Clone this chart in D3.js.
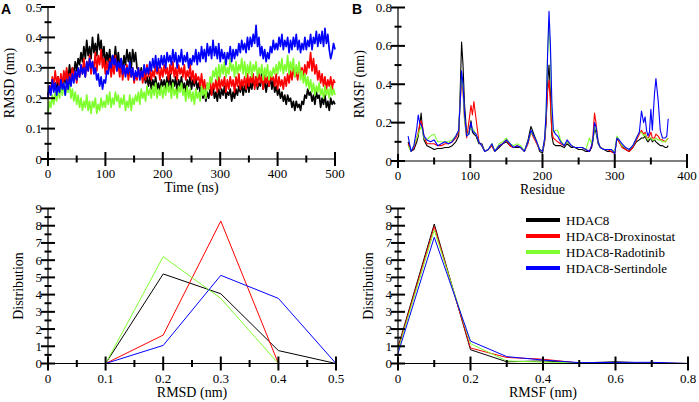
<!DOCTYPE html>
<html>
<head>
<meta charset="utf-8">
<script src="https://cdn.jsdelivr.net/npm/d3@7"></script>
<style>
  body { margin: 0; background: #fff; }
  svg { display: block; }
  .tick-label { font-family: "Liberation Serif", "Times New Roman", serif; font-size: 13px; fill: #000; }
  .axis-title { font-family: "Liberation Serif", "Times New Roman", serif; font-size: 14px; fill: #000; }
  .panel-letter { font-family: "Liberation Sans", Arial, sans-serif; font-size: 14px; font-weight: bold; fill: #000; }
</style>
</head>
<body>
<div id="chart"></div>
<script>
const WIDTH = 699;
const HEIGHT = 402;

const SERIES_NAMES = ["HDAC8", "HDAC8-Droxinostat", "HDAC8-Radotinib", "HDAC8-Sertindole"];
const COLORS = ["#000000", "#ff0000", "#80ff30", "#0000ff"];

// panel A: RMSD vs time, one value every 2.5 ns (0..500), 20 values per row = 50 ns
const TIME_STEP = 2.5;
const rmsdBlack = [
  0.21,0.24,0.22,0.26,0.23,0.25,0.22,0.27,0.24,0.26,0.23,0.28,0.25,0.29,0.26,0.31,0.27,0.30,0.28,0.32,
  0.29,0.33,0.31,0.35,0.32,0.37,0.33,0.39,0.34,0.37,0.33,0.40,0.35,0.38,0.34,0.41,0.36,0.39,0.33,0.37,
  0.31,0.35,0.32,0.36,0.30,0.34,0.32,0.37,0.31,0.35,0.30,0.33,0.29,0.34,0.31,0.36,0.32,0.35,0.30,0.36,
  0.32,0.35,0.30,0.29,0.27,0.30,0.26,0.28,0.25,0.27,0.24,0.27,0.23,0.26,0.24,0.27,0.23,0.25,0.22,0.26,
  0.24,0.26,0.23,0.27,0.24,0.28,0.23,0.26,0.24,0.27,0.22,0.26,0.24,0.27,0.23,0.25,0.22,0.26,0.24,0.27,
  0.23,0.26,0.24,0.27,0.23,0.25,0.22,0.24,0.20,0.23,0.19,0.22,0.20,0.23,0.21,0.24,0.20,0.22,0.19,0.23,
  0.20,0.23,0.21,0.24,0.20,0.22,0.21,0.23,0.19,0.22,0.20,0.23,0.21,0.24,0.22,0.25,0.21,0.24,0.22,0.26,
  0.22,0.25,0.23,0.26,0.24,0.27,0.23,0.25,0.24,0.28,0.23,0.26,0.22,0.25,0.24,0.27,0.23,0.26,0.22,0.24,
  0.21,0.23,0.20,0.22,0.19,0.21,0.18,0.21,0.19,0.20,0.17,0.19,0.16,0.19,0.17,0.18,0.16,0.19,0.18,0.21,
  0.20,0.23,0.21,0.22,0.19,0.21,0.18,0.22,0.20,0.21,0.17,0.20,0.18,0.21,0.17,0.19,0.16,0.20,0.18,0.19,
  0.18];
const rmsdRed = [
  0.20,0.24,0.22,0.27,0.24,0.29,0.25,0.27,0.24,0.28,0.23,0.29,0.26,0.30,0.25,0.28,0.26,0.30,0.27,0.29,
  0.25,0.29,0.27,0.31,0.28,0.33,0.27,0.32,0.29,0.34,0.28,0.32,0.30,0.35,0.29,0.34,0.31,0.36,0.30,0.33,
  0.28,0.32,0.29,0.33,0.27,0.31,0.28,0.34,0.29,0.31,0.27,0.32,0.26,0.30,0.28,0.31,0.26,0.29,0.27,0.30,
  0.25,0.28,0.26,0.30,0.27,0.29,0.25,0.29,0.26,0.31,0.27,0.30,0.26,0.29,0.27,0.31,0.28,0.30,0.26,0.30,
  0.27,0.31,0.28,0.30,0.26,0.31,0.28,0.32,0.27,0.30,0.26,0.31,0.28,0.30,0.27,0.31,0.26,0.29,0.27,0.31,
  0.26,0.29,0.25,0.28,0.26,0.27,0.24,0.28,0.23,0.26,0.22,0.25,0.23,0.26,0.21,0.25,0.23,0.26,0.22,0.27,
  0.23,0.26,0.24,0.27,0.22,0.26,0.23,0.27,0.24,0.26,0.22,0.27,0.24,0.28,0.23,0.26,0.24,0.27,0.23,0.28,
  0.24,0.27,0.25,0.28,0.23,0.27,0.24,0.29,0.25,0.27,0.23,0.28,0.25,0.27,0.24,0.28,0.26,0.27,0.24,0.28,
  0.23,0.27,0.24,0.26,0.23,0.27,0.24,0.28,0.25,0.29,0.26,0.30,0.27,0.29,0.26,0.31,0.28,0.30,0.27,0.31,
  0.28,0.32,0.30,0.35,0.29,0.33,0.28,0.31,0.26,0.29,0.25,0.28,0.24,0.27,0.23,0.26,0.24,0.27,0.23,0.26,
  0.25];
const rmsdGreen = [
  0.15,0.19,0.17,0.21,0.18,0.22,0.19,0.23,0.20,0.24,0.21,0.25,0.21,0.24,0.22,0.25,0.20,0.23,0.19,0.22,
  0.18,0.21,0.17,0.20,0.16,0.19,0.17,0.21,0.16,0.19,0.15,0.19,0.17,0.20,0.15,0.18,0.16,0.20,0.17,0.19,
  0.17,0.21,0.18,0.22,0.17,0.20,0.18,0.22,0.19,0.21,0.17,0.20,0.18,0.21,0.16,0.19,0.17,0.21,0.16,0.20,
  0.18,0.21,0.19,0.22,0.18,0.23,0.20,0.22,0.19,0.24,0.21,0.23,0.20,0.24,0.21,0.25,0.20,0.23,0.21,0.24,
  0.20,0.24,0.21,0.25,0.22,0.24,0.20,0.25,0.21,0.23,0.20,0.24,0.22,0.25,0.21,0.23,0.19,0.24,0.20,0.23,
  0.19,0.22,0.18,0.23,0.20,0.22,0.19,0.24,0.21,0.23,0.20,0.25,0.23,0.27,0.25,0.29,0.27,0.30,0.26,0.31,
  0.27,0.31,0.28,0.32,0.27,0.30,0.28,0.33,0.29,0.31,0.27,0.32,0.28,0.31,0.29,0.33,0.28,0.32,0.27,0.31,
  0.28,0.32,0.27,0.31,0.29,0.32,0.27,0.30,0.28,0.31,0.26,0.30,0.27,0.31,0.26,0.29,0.27,0.30,0.28,0.31,
  0.28,0.32,0.29,0.33,0.28,0.31,0.29,0.34,0.28,0.32,0.29,0.33,0.27,0.31,0.28,0.32,0.26,0.29,0.25,0.28,
  0.24,0.27,0.23,0.26,0.22,0.25,0.21,0.24,0.22,0.25,0.21,0.23,0.20,0.24,0.21,0.23,0.20,0.24,0.21,0.23,
  0.21];
const rmsdBlue = [
  0.20,0.24,0.21,0.26,0.22,0.25,0.21,0.24,0.22,0.26,0.23,0.25,0.21,0.26,0.23,0.27,0.24,0.28,0.25,0.29,
  0.26,0.30,0.27,0.31,0.28,0.30,0.27,0.32,0.29,0.33,0.30,0.32,0.28,0.30,0.26,0.28,0.24,0.27,0.23,0.26,
  0.25,0.29,0.28,0.32,0.30,0.34,0.31,0.33,0.29,0.32,0.30,0.33,0.28,0.31,0.27,0.30,0.28,0.32,0.27,0.30,
  0.26,0.29,0.27,0.30,0.26,0.29,0.27,0.31,0.28,0.30,0.28,0.32,0.29,0.33,0.30,0.34,0.29,0.33,0.30,0.34,
  0.31,0.34,0.30,0.35,0.32,0.34,0.31,0.36,0.32,0.35,0.30,0.34,0.32,0.36,0.31,0.34,0.32,0.35,0.30,0.33,
  0.31,0.34,0.32,0.36,0.31,0.35,0.32,0.37,0.33,0.36,0.32,0.38,0.34,0.37,0.33,0.39,0.34,0.37,0.33,0.38,
  0.32,0.36,0.33,0.35,0.31,0.35,0.33,0.37,0.32,0.36,0.33,0.36,0.34,0.38,0.35,0.39,0.36,0.38,0.35,0.40,
  0.36,0.40,0.37,0.41,0.38,0.44,0.37,0.40,0.34,0.37,0.33,0.36,0.32,0.35,0.33,0.37,0.35,0.39,0.36,0.38,
  0.36,0.40,0.37,0.41,0.36,0.39,0.37,0.40,0.35,0.39,0.36,0.40,0.37,0.41,0.36,0.39,0.35,0.38,0.36,0.40,
  0.36,0.39,0.37,0.41,0.36,0.40,0.38,0.42,0.37,0.41,0.38,0.42,0.37,0.43,0.38,0.41,0.36,0.33,0.35,0.38,
  0.36];

// panel B: RMSF per residue
const residues = [14,18,22,26,28,30,32,34,36,40,45,50,55,60,65,70,75,80,84,86,
  88,90,92,95,98,101,103,105,108,112,116,120,125,130,134,140,145,150,155,160,
  165,170,175,180,184,188,192,196,200,203,205,207,209,211,213,215,218,221,225,230,
  234,240,245,250,255,260,265,268,270,272,274,277,280,285,290,295,300,303,306,310,
  315,320,325,330,334,337,340,342,344,346,348,350,352,355,357,360,363,366,370,372,374];
const rmsfBlack = [0.10,0.05,0.06,0.10,0.13,0.18,0.25,0.16,0.11,0.08,0.07,0.06,0.065,0.065,0.07,0.07,0.08,0.10,0.13,0.35,
  0.62,0.50,0.30,0.14,0.14,0.21,0.15,0.14,0.13,0.09,0.09,0.05,0.06,0.08,0.05,0.07,0.09,0.10,0.08,0.07,
  0.07,0.07,0.05,0.11,0.18,0.14,0.10,0.05,0.04,0.10,0.20,0.40,0.50,0.35,0.13,0.09,0.08,0.08,0.08,0.07,
  0.09,0.07,0.07,0.06,0.06,0.05,0.05,0.07,0.11,0.17,0.15,0.09,0.07,0.06,0.05,0.05,0.04,0.12,0.10,0.08,
  0.06,0.05,0.07,0.10,0.11,0.12,0.12,0.13,0.11,0.10,0.11,0.12,0.10,0.11,0.10,0.09,0.08,0.08,0.07,0.07,0.08];
const rmsfRed = [0.09,0.05,0.07,0.12,0.15,0.19,0.21,0.18,0.13,0.09,0.09,0.09,0.08,0.08,0.09,0.09,0.10,0.12,0.15,0.30,
  0.42,0.36,0.22,0.12,0.20,0.29,0.24,0.31,0.22,0.10,0.08,0.05,0.06,0.08,0.05,0.08,0.09,0.11,0.08,0.07,
  0.08,0.07,0.05,0.09,0.15,0.12,0.09,0.06,0.05,0.11,0.22,0.36,0.42,0.30,0.15,0.12,0.11,0.10,0.09,0.08,
  0.10,0.08,0.07,0.07,0.07,0.06,0.05,0.08,0.14,0.25,0.20,0.10,0.07,0.06,0.06,0.05,0.04,0.12,0.10,0.07,
  0.06,0.05,0.07,0.11,0.14,0.16,0.14,0.15,0.12,0.12,0.13,0.15,0.12,0.12,0.14,0.13,0.11,0.11,0.10,0.11,0.12];
const rmsfGreen = [0.08,0.05,0.08,0.12,0.14,0.16,0.18,0.16,0.12,0.11,0.13,0.14,0.10,0.10,0.10,0.10,0.11,0.13,0.16,0.30,
  0.45,0.38,0.22,0.13,0.15,0.17,0.17,0.16,0.14,0.10,0.08,0.05,0.06,0.09,0.05,0.09,0.10,0.12,0.09,0.08,
  0.09,0.08,0.05,0.10,0.15,0.13,0.10,0.06,0.05,0.12,0.26,0.55,0.72,0.55,0.25,0.15,0.16,0.16,0.11,0.08,
  0.10,0.08,0.07,0.07,0.07,0.06,0.12,0.09,0.12,0.18,0.17,0.10,0.07,0.06,0.06,0.06,0.05,0.13,0.11,0.08,
  0.07,0.06,0.08,0.12,0.15,0.15,0.13,0.14,0.12,0.11,0.12,0.12,0.11,0.11,0.12,0.11,0.11,0.10,0.10,0.11,0.12];
const rmsfBlue = [0.13,0.05,0.08,0.17,0.24,0.20,0.19,0.17,0.13,0.11,0.10,0.11,0.08,0.09,0.10,0.09,0.10,0.13,0.16,0.30,
  0.47,0.40,0.25,0.13,0.14,0.20,0.16,0.15,0.14,0.10,0.08,0.05,0.06,0.09,0.05,0.08,0.09,0.11,0.09,0.07,
  0.08,0.07,0.05,0.10,0.16,0.13,0.10,0.06,0.05,0.12,0.25,0.55,0.78,0.60,0.30,0.16,0.14,0.13,0.10,0.08,
  0.11,0.08,0.07,0.07,0.07,0.06,0.05,0.08,0.12,0.20,0.18,0.10,0.07,0.06,0.06,0.06,0.04,0.12,0.11,0.09,
  0.07,0.06,0.08,0.12,0.15,0.26,0.20,0.23,0.16,0.13,0.15,0.27,0.16,0.35,0.43,0.32,0.16,0.12,0.12,0.13,0.22];

// panel C: RMSD distribution (null = no point for that series)
const rmsdBins = [0.05, 0.1, 0.2, 0.3, 0.4, 0.45, 0.5];
const distRmsdBlack = [null, 0, 5.2, 4.05, 0.75, null, 0];
const distRmsdRed   = [null, 0, 1.65, 8.27, 0, 0, null];
const distRmsdGreen = [0, 0, 6.2, 3.78, 0, null, null];
const distRmsdBlue  = [null, 0, 1.05, 5.12, 3.78, null, 0];

// panel D: RMSF distribution
const rmsfBins = [0, 0.1, 0.2, 0.3, 0.4, 0.5, 0.6, 0.7, 0.8];
const distRmsfBlack = [0.95, 8.1, 0.8, 0.1, 0.15, 0.03, 0.1, 0.02, 0];
const distRmsfRed   = [0.85, 7.95, 0.9, 0.35, 0.25, 0.03, 0.06, 0.03, 0];
const distRmsfGreen = [0.75, 7.75, 1.15, 0.15, 0.08, 0.04, 0.06, 0.03, 0];
const distRmsfBlue  = [0.58, 7.33, 1.3, 0.4, 0.2, 0.05, 0.06, 0.07, 0];

const svg = d3.select("#chart").append("svg")
    .attr("width", WIDTH)
    .attr("height", HEIGHT);

// axis lines, crossing ticks, labels
function drawAxes(p) {
  const g = svg.append("g");
  const x0 = p.x.range()[0], x1 = p.x.range()[1];
  const y0 = p.y.range()[0], y1 = p.y.range()[1];

  g.append("line").attr("x1", x0).attr("x2", x0).attr("y1", y0).attr("y2", y1)
    .attr("stroke", "#000").attr("stroke-width", 1.2);
  g.append("line").attr("x1", x0).attr("x2", x1).attr("y1", y0).attr("y2", y0)
    .attr("stroke", "#000").attr("stroke-width", 1.2);

  p.xMinor.forEach(v => {
    g.append("line").attr("x1", p.x(v)).attr("x2", p.x(v)).attr("y1", y0 - 3.5).attr("y2", y0 + 3.5)
      .attr("stroke", "#000").attr("stroke-width", 2);
  });
  p.xMajor.forEach(v => {
    g.append("line").attr("x1", p.x(v)).attr("x2", p.x(v)).attr("y1", y0 - 7).attr("y2", y0 + 7)
      .attr("stroke", "#000").attr("stroke-width", 2);
    g.append("text").attr("class", "tick-label")
      .attr("x", p.x(v)).attr("y", y0 + 19)
      .attr("text-anchor", "middle")
      .text(p.xFmt(v));
  });
  p.yMinor.forEach(v => {
    g.append("line").attr("x1", x0 - 3.5).attr("x2", x0 + 3.5).attr("y1", p.y(v)).attr("y2", p.y(v))
      .attr("stroke", "#000").attr("stroke-width", 2);
  });
  p.yMajor.forEach(v => {
    g.append("line").attr("x1", x0 - 7).attr("x2", x0 + 7).attr("y1", p.y(v)).attr("y2", p.y(v))
      .attr("stroke", "#000").attr("stroke-width", 2);
    g.append("text").attr("class", "tick-label")
      .attr("x", x0 - 6).attr("y", p.y(v) + 4.5)
      .attr("text-anchor", "end")
      .text(p.yFmt(v));
  });

  g.append("text").attr("class", "axis-title")
    .attr("x", (x0 + x1) / 2).attr("y", y0 + 33)
    .attr("text-anchor", "middle")
    .text(p.xTitle);
  g.append("text").attr("class", "axis-title")
    .attr("transform", "translate(" + p.yTitleX + "," + ((y0 + y1) / 2) + ") rotate(-90)")
    .attr("text-anchor", "middle")
    .text(p.yTitle);
}

function fmt(v) { return String(+v.toFixed(2)); }
function steps(a, b, s) {
  const out = [];
  for (let i = 0; a + i * s <= b + 1e-9; i++) out.push(+(a + i * s).toFixed(4));
  return out;
}

// ---------- panel A ----------
const xA = d3.scaleLinear().domain([0, 500]).range([48, 335]);
const yA = d3.scaleLinear().domain([0, 0.5]).range([159, 7]);
const rmsdSeries = [rmsdBlack, rmsdRed, rmsdGreen, rmsdBlue];
const lineA = d3.line().x((d, i) => xA(i * TIME_STEP)).y(d => yA(d));
rmsdSeries.forEach((s, k) => {
  svg.append("path").datum(s)
    .attr("d", lineA)
    .attr("fill", "none")
    .attr("stroke", COLORS[k])
    .attr("stroke-width", 1.7)
    .attr("stroke-linejoin", "round");
});
drawAxes({x: xA, y: yA,
  xMajor: steps(0, 500, 100), xMinor: steps(50, 450, 100),
  yMajor: steps(0, 0.5, 0.1), yMinor: steps(0.05, 0.45, 0.1),
  xFmt: fmt, yFmt: fmt, xTitle: "Time (ns)", yTitle: "RMSD (nm)", yTitleX: 14});

// ---------- panel B ----------
const xB = d3.scaleLinear().domain([0, 400]).range([398, 687]);
const yB = d3.scaleLinear().domain([0, 0.8]).range([161, 7.5]);
const rmsfSeries = [rmsfBlack, rmsfRed, rmsfGreen, rmsfBlue];
const lineB = d3.line().x((d, i) => xB(residues[i])).y(d => yB(d));
rmsfSeries.forEach((s, k) => {
  svg.append("path").datum(s)
    .attr("d", lineB)
    .attr("fill", "none")
    .attr("stroke", COLORS[k])
    .attr("stroke-width", 1.1)
    .attr("stroke-linejoin", "round");
});
drawAxes({x: xB, y: yB,
  xMajor: steps(0, 400, 100), xMinor: steps(50, 350, 100),
  yMajor: steps(0, 0.8, 0.2), yMinor: steps(0.1, 0.7, 0.2),
  xFmt: fmt, yFmt: fmt, xTitle: "Residue", yTitle: "RMSF (nm)", yTitleX: 364});

// ---------- panel C ----------
const xC = d3.scaleLinear().domain([0, 0.5]).range([48, 336]);
const yC = d3.scaleLinear().domain([0, 9]).range([363.5, 208.5]);
const distRmsd = [distRmsdBlack, distRmsdRed, distRmsdGreen, distRmsdBlue];
const lineC = d3.line().x(d => xC(d[0])).y(d => yC(d[1]));
distRmsd.forEach((s, k) => {
  // skip missing bins instead of breaking the line
  const pts = s.map((v, i) => [rmsdBins[i], v]).filter(d => d[1] != null);
  svg.append("path").datum(pts)
    .attr("d", lineC)
    .attr("fill", "none")
    .attr("stroke", COLORS[k])
    .attr("stroke-width", 1);
});
drawAxes({x: xC, y: yC,
  xMajor: steps(0, 0.5, 0.1), xMinor: steps(0.05, 0.45, 0.1),
  yMajor: steps(0, 9, 1), yMinor: steps(0.5, 8.5, 1),
  xFmt: fmt, yFmt: fmt, xTitle: "RMSD (nm)", yTitle: "Distribution", yTitleX: 23});

// ---------- panel D ----------
const xD = d3.scaleLinear().domain([0, 0.8]).range([398, 688]);
const yD = d3.scaleLinear().domain([0, 9]).range([363.5, 208.5]);
const distRmsf = [distRmsfBlack, distRmsfRed, distRmsfGreen, distRmsfBlue];
const lineD = d3.line().x((d, i) => xD(rmsfBins[i])).y(d => yD(d));
distRmsf.forEach((s, k) => {
  svg.append("path").datum(s)
    .attr("d", lineD)
    .attr("fill", "none")
    .attr("stroke", COLORS[k])
    .attr("stroke-width", 1);
});
drawAxes({x: xD, y: yD,
  xMajor: steps(0, 0.8, 0.2), xMinor: steps(0.1, 0.7, 0.2),
  yMajor: steps(0, 9, 1), yMinor: steps(0.5, 8.5, 1),
  xFmt: fmt, yFmt: fmt, xTitle: "RMSF (nm)", yTitle: "Distribution", yTitleX: 373});

// legend
const legend = svg.append("g");
SERIES_NAMES.forEach((name, k) => {
  const y = 220 + k * 16;
  legend.append("line")
    .attr("x1", 526).attr("x2", 560).attr("y1", y).attr("y2", y)
    .attr("stroke", COLORS[k]).attr("stroke-width", 4);
  legend.append("text").attr("class", "tick-label")
    .attr("x", 566).attr("y", y + 4.5)
    .text(name);
});

// panel letters
svg.append("text").attr("class", "panel-letter").attr("x", 1).attr("y", 14).text("A");
svg.append("text").attr("class", "panel-letter").attr("x", 352).attr("y", 14).text("B");
</script>
</body>
</html>
